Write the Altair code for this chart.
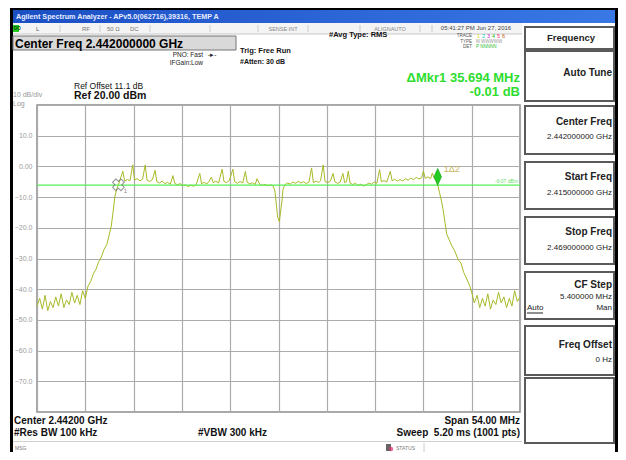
import altair as alt
import pandas as pd

# ---------------- data ----------------
freq_mhz = [
    2415.0, 2415.3, 2415.6, 2415.9, 2416.2, 2416.5, 2416.8, 2417.1, 2417.4, 2417.7,
    2418.0, 2418.3, 2418.6, 2418.9, 2419.2, 2419.5, 2419.8, 2420.1, 2420.4, 2420.7,
    2421.0, 2421.3, 2421.6, 2421.9, 2422.2, 2422.5, 2422.8, 2423.1, 2423.3, 2423.5,
    2423.7, 2423.9, 2424.1, 2424.3, 2424.6, 2424.8, 2425.1, 2425.4, 2425.7, 2425.9,
    2426.2, 2426.5, 2426.8, 2427.1, 2427.3, 2427.6, 2427.9, 2428.2, 2428.4, 2428.7,
    2429.0, 2429.3, 2429.6, 2429.9, 2430.2, 2430.4, 2430.7, 2431.0, 2431.3, 2431.6,
    2431.9, 2432.2, 2432.5, 2432.8, 2433.2, 2433.4, 2433.7, 2434.0, 2434.2, 2434.5,
    2434.7, 2435.0, 2435.3, 2435.7, 2435.9, 2436.2, 2436.5, 2436.9, 2437.1, 2437.4,
    2437.7, 2438.0, 2438.3, 2438.5, 2438.8, 2439.1, 2439.4, 2439.6, 2439.9, 2440.2,
    2440.5, 2440.8, 2441.1, 2441.4, 2441.6, 2441.8, 2441.9, 2442.1, 2442.2, 2442.4,
    2442.5, 2442.7, 2443.0, 2443.3, 2443.6, 2443.9, 2444.2, 2444.5, 2444.8, 2445.1,
    2445.4, 2445.7, 2445.9, 2446.2, 2446.5, 2446.7, 2447.0, 2447.2, 2447.5, 2447.8,
    2448.1, 2448.3, 2448.6, 2448.9, 2449.2, 2449.4, 2449.6, 2449.8, 2450.0, 2450.3,
    2450.6, 2450.9, 2451.2, 2451.5, 2451.8, 2452.1, 2452.4, 2452.7, 2453.0, 2453.3,
    2453.5, 2453.8, 2454.1, 2454.5, 2454.7, 2455.0, 2455.3, 2455.6, 2455.9, 2456.2,
    2456.5, 2456.8, 2457.1, 2457.4, 2457.7, 2458.0, 2458.2, 2458.4, 2458.7, 2459.0,
    2459.2, 2459.4, 2459.6, 2459.8, 2460.0, 2460.2, 2460.4, 2460.6, 2460.8, 2461.1,
    2461.4, 2461.7, 2462.1, 2462.4, 2462.7, 2463.1, 2463.4, 2463.6, 2463.9, 2464.2,
    2464.5, 2464.8, 2465.1, 2465.4, 2465.7, 2466.0, 2466.3, 2466.6, 2466.9, 2467.2,
    2467.5, 2467.8, 2468.1, 2468.4, 2468.7, 2469.0,
]
level_dbm = [
    -45.5, -43.0, -46.5, -42.0, -47.0, -44.0, -46.0, -42.5, -45.5, -41.5,
    -46.0, -43.5, -45.0, -41.0, -44.5, -42.0, -45.0, -40.5, -43.0, -39.0,
    -37.5, -35.0, -33.5, -31.0, -29.5, -27.0, -25.5, -22.0, -19.5, -15.0,
    -10.0, -7.5, -6.0, -4.2, -1.6, -4.8, -4.3, -4.6, 0.5, -4.4,
    -4.0, -4.7, -4.2, 0.5, -4.5, -4.9, -4.3, -1.3, -5.0, -5.4,
    -4.8, -5.6, -5.2, -5.8, -3.0, -5.5, -6.0, -5.6, -6.3, -6.0,
    -6.6, -6.1, -6.5, -5.9, -2.3, -5.6, -5.2, -5.7, -5.0, -3.5,
    -5.3, -4.8, -5.4, -0.9, -4.9, -5.3, -4.6, -0.9, -5.0, -5.5,
    -4.9, -5.4, -1.6, -5.2, -5.7, -5.3, -5.9, -4.0, -5.8, -6.2,
    -5.8, -6.3, -6.0, -6.4, -8.0, -13.5, -16.5, -18.0, -15.5, -11.0,
    -7.5, -6.0, -5.4, -5.8, -5.1, -5.5, -4.9, -5.4, -5.0, -5.6,
    -5.1, -0.5, -5.3, -4.8, -5.2, -4.7, 0.5, -4.9, -5.3, -4.8,
    -2.3, -5.0, -5.5, -5.1, -2.3, -5.3, -5.0, -1.5, -5.4, -5.9,
    -5.5, -6.2, -5.8, -6.4, -6.0, -5.4, -5.8, -5.1, -5.5, -1.0,
    -5.0, -4.6, -5.1, -1.6, -4.7, -4.2, -4.8, -4.3, -4.7, -4.0,
    -4.5, -3.8, -4.3, -3.6, -4.1, -3.7, -1.5, -3.9, -3.4, -4.0,
    -2.2, -3.8, -4.5, -6.0, -8.5, -11.0, -14.0, -18.0, -22.0, -24.0,
    -26.0, -27.5, -30.5, -31.5, -34.5, -37.0, -39.0, -41.0, -44.5, -42.0,
    -46.0, -43.0, -45.5, -41.5, -46.5, -43.5, -45.0, -41.0, -44.5, -42.5,
    -46.0, -43.0, -45.5, -40.5, -44.0, -42.5,
]
grid_freqs = [2415.0, 2420.4, 2425.8, 2431.2, 2436.6, 2442.0, 2447.4, 2452.8, 2458.2, 2463.6, 2469.0]
grid_levels = [20, 10, 0, -10, -20, -30, -40, -50, -60, -70, -80]
display_line = [-6.07]
marker_freq = [2424.1, 2459.8]
marker_level = [-6.0, -6.0]

# ---------------- layout helpers ----------------
OX, OY = 37, 105          # page position of the plot area's top-left corner
W, H = 483, 307
FONT = "Liberation Sans"
NB = "\u00a0"
dummy = pd.DataFrame({"d": [0]})
base = alt.Chart(dummy)


def T(text, px, py, size=8, weight="normal", color="#000000", align="left", font=FONT):
    return base.mark_text(text=text, fontSize=size, fontWeight=weight, color=color,
                          align=align, baseline="middle", font=font).encode(
        x=alt.value(px - OX), y=alt.value(py - OY))


def R(x1, y1, x2, y2, fill, stroke=None, sw=0):
    kw = dict(fill=fill, strokeWidth=sw)
    if stroke:
        kw["stroke"] = stroke
    return base.mark_rect(**kw).encode(
        x=alt.value(x1 - OX), x2=alt.value(x2 - OX),
        y=alt.value(y1 - OY), y2=alt.value(y2 - OY))


def L(x1, y1, x2, y2, color="#aaaaaa", sw=1):
    return base.mark_rule(color=color, strokeWidth=sw).encode(
        x=alt.value(x1 - OX), x2=alt.value(x2 - OX),
        y=alt.value(y1 - OY), y2=alt.value(y2 - OY))


x_enc = alt.X("f:Q", scale=alt.Scale(domain=[2415, 2469], nice=False, zero=False),
              axis=alt.Axis(values=grid_freqs, labels=False, ticks=False, domain=False,
                            title=None, grid=True, gridColor="#ababab", gridWidth=1.2))
y_enc = alt.Y("p:Q", scale=alt.Scale(domain=[-80, 20], nice=False, zero=False),
              axis=alt.Axis(values=grid_levels, ticks=False, domain=False, title=None,
                            grid=True, gridColor="#ababab", gridWidth=1.2,
                            labelExpr="datum.value == 20 || datum.value == -80 ? '' : "
                                      "(datum.value == 0 ? '0.00' : format(datum.value, '.1f'))",
                            labelColor="#9c9c9c", labelFontSize=7, labelFont=FONT,
                            labelPadding=5, labelFlush=False, labelBaseline="middle"))

layers = []

# frame / title bar
blue = alt.Gradient(gradient="linear", x1=0, x2=1, y1=0, y2=0,
                    stops=[alt.GradientStop(color="#1b4fc4", offset=0),
                           alt.GradientStop(color="#3a78e6", offset=1)])
layers += [
    R(10, 8, 618, 10, "#000000"),
    R(10, 8, 13, 460, "#000000"),
    R(615, 8, 618, 460, "#000000"),
    R(13, 10, 615, 23, blue),
    T("Agilent Spectrum Analyzer - APv5.0(062716),39316, TEMP A", 16, 16.5, 7.2, "bold", "#e8eeff"),
    # status row
    R(13, 23, 522, 34, "#f4f4f4"),
    L(13, 34, 522, 34, "#c8c8c8"),
    R(13, 25, 19, 32, "#22cc22"),
    T("DO", 14, 28.5, 4.5, "bold", "#004400"),
    T("L", 36, 28.5, 6, "normal", "#555555"),
    T("RF", 82, 28.5, 6, "normal", "#777777"),
    T("50 Ω", 107, 28.5, 6, "normal", "#777777"),
    T("DC", 130, 28.5, 6, "normal", "#777777"),
    T("SENSE:INT", 283, 28.5, 5.5, "normal", "#888888", "center"),
    T("ALIGNAUTO", 390, 28.5, 5.5, "normal", "#888888", "center"),
    T("05:41:27 PM Jun 27, 2016", 476, 28, 6, "normal", "#444444", "center"),
    L(60, 25, 60, 32, "#cccccc"), L(100, 25, 100, 32, "#cccccc"),
    L(150, 25, 150, 32, "#cccccc"), L(210, 25, 210, 32, "#cccccc"),
    L(258, 25, 258, 32, "#cccccc"), L(308, 25, 308, 32, "#cccccc"),
    L(360, 25, 360, 32, "#cccccc"), L(420, 25, 420, 32, "#cccccc"),
    L(432, 25, 432, 32, "#cccccc"),
    # center freq banner
    R(13, 36, 236, 50, "#d9d9d9", "#777777", 1),
    T("Center Freq 2.442000000 GHz", 15, 43.5, 12, "bold", "#000000"),
    T("PNO: Fast", 203, 55, 6.5, "normal", "#222222", "right"),
    T("-▸-", 208, 55, 6.5, "normal", "#222222"),
    T("IFGain:Low", 203, 63, 6.5, "normal", "#222222", "right"),
    T("Trig: Free Run", 240, 50.5, 7.5, "bold", "#111111"),
    T("#Atten: 30 dB", 240, 62, 7, "bold", "#111111"),
    T("#Avg Type: RMS", 329, 35, 7.5, "bold", "#111111"),
    T("TRACE", 472, 36, 4.5, "normal", "#555555", "right"),
    T("1", 477, 36, 5.5, "normal", "#d8d800"), T("2", 482, 36, 5.5, "normal", "#00c8c8"),
    T("3", 487, 36, 5.5, "normal", "#d020d0"), T("4", 492, 36, 5.5, "normal", "#20b020"),
    T("5", 497, 36, 5.5, "normal", "#ff3070"), T("6", 502, 36, 5.5, "normal", "#c06000"),
    T("TYPE", 472, 41.5, 4.5, "normal", "#555555", "right"),
    T("M WWWWW", 476, 41.5, 4.5, "normal", "#9a9a9a"),
    T("DET", 472, 47, 4.5, "normal", "#555555", "right"),
    T("P  NNNNN", 476, 47, 4.5, "normal", "#33bb33"),
    # marker readout
    T("ΔMkr1 35.694 MHz", 520, 78, 13, "bold", "#2edd2e", "right"),
    T("-0.01 dB", 520, 92, 13, "bold", "#2edd2e", "right"),
    # reference info
    T("Ref Offset 11.1 dB", 74, 85.5, 8.5, "normal", "#111111"),
    T("Ref 20.00 dBm", 74, 96, 10.5, "bold", "#111111"),
    T("10 dB/div", 13, 95, 7, "normal", "#9a9a9a"),
    T("Log", 13, 103.5, 7, "normal", "#9a9a9a"),
    # bottom annotations
    T("Center 2.44200 GHz", 14, 420.5, 10, "bold", "#111111"),
    T("#Res BW 100 kHz", 14, 433, 10, "bold", "#111111"),
    T("#VBW 300 kHz", 198, 433, 10, "bold", "#111111"),
    T("Span 54.00 MHz", 520, 420.5, 10, "bold", "#111111", "right"),
    T("Sweep" + NB + NB + "5.20 ms (1001 pts)", 520, 433, 10, "bold", "#111111", "right"),
    L(13, 441.5, 522, 441.5, "#d0d0d0"),
    T("MSG", 15, 447.5, 5, "normal", "#777777"),
    R(386, 444, 391, 451, "#666666"),
    base.mark_circle(color="#e0306a", size=20).encode(x=alt.value(391 - OX), y=alt.value(449 - OY)),
    T("STATUS", 396, 447.5, 5, "normal", "#777777"),
    L(424, 443, 424, 452, "#cccccc"),
]

# soft-key panel
keys = [
    (27, 49), (51, 101), (106, 154), (162, 209), (217, 264), (272, 319), (326, 375), (378, 443),
]
for (y1, y2) in keys:
    layers.append(R(525, y1, 614, y2, "#ffffff", "#5a5a5a", 2))
layers += [
    T("Frequency", 571, 38, 9.5, "bold", "#222222", "center"),
    T("Auto Tune", 612, 73, 10, "bold", "#222222", "right"),
    T("Center Freq", 612, 122, 10, "bold", "#222222", "right"),
    T("2.442000000 GHz", 612, 137, 8, "normal", "#222222", "right"),
    T("Start Freq", 612, 177, 10, "bold", "#222222", "right"),
    T("2.415000000 GHz", 612, 192.5, 8, "normal", "#222222", "right"),
    T("Stop Freq", 612, 232, 10, "bold", "#222222", "right"),
    T("2.469000000 GHz", 612, 248, 8, "normal", "#222222", "right"),
    T("CF Step", 612, 285, 10, "bold", "#222222", "right"),
    T("5.400000 MHz", 612, 296.5, 8, "normal", "#222222", "right"),
    T("Auto", 527, 308, 8, "normal", "#222222"),
    L(527, 313, 543, 313, "#222222", 1),
    T("Man", 612, 308, 8, "normal", "#222222", "right"),
    T("Freq Offset", 612, 345, 10, "bold", "#222222", "right"),
    T("0 Hz", 612, 360, 8, "normal", "#222222", "right"),
]

# ---------------- plot contents ----------------
trace_df = pd.DataFrame({"f": freq_mhz, "p": level_dbm})
dl_df = pd.DataFrame({"p": display_line})
mk_df = pd.DataFrame({"f": marker_freq, "p": marker_level})

trace = alt.Chart(trace_df).mark_line(color="#a9b928", strokeWidth=1).encode(x=x_enc, y=y_enc)
dline = alt.Chart(dl_df).mark_rule(color="#55ee55", strokeWidth=1.2).encode(y=y_enc)
dlabel = alt.Chart(dl_df).mark_text(text="-6.07 dBm", fontSize=5, color="#66dd66",
                                    align="left", baseline="bottom", dy=-1, font=FONT).encode(
    y=y_enc, x=alt.value(495 - OX))
mk1 = alt.Chart(mk_df.iloc[[0]]).mark_point(shape="cross", angle=45, filled=False,
                                             stroke="#6a6a6a", strokeWidth=1, size=140).encode(x=x_enc, y=y_enc)
mk1t = alt.Chart(mk_df.iloc[[0]]).mark_text(text="1", fontSize=6, color="#888888", dx=7, dy=6,
                                             font=FONT).encode(x=x_enc, y=y_enc)
mk2 = alt.Chart(mk_df.iloc[[1]]).mark_point(shape="M0,-1L0.45,0L0,1L-0.45,0Z", filled=True,
                                             fill="#22cc22", stroke="#119911", strokeWidth=0.5,
                                             opacity=1, size=289, yOffset=-8).encode(x=x_enc, y=y_enc)
mk2t = alt.Chart(mk_df.iloc[[1]]).mark_text(text="1Δ2", fontSize=9, color="#c4b45a", align="left",
                                             dx=6, dy=-16, font=FONT).encode(x=x_enc, y=y_enc)

chart = alt.layer(trace, dline, dlabel, mk1, mk1t, mk2, mk2t, *layers).properties(
    width=W, height=H, autosize="none",
    padding={"left": OX - 8, "top": OY - 8, "right": 618 - (OX + W), "bottom": 452 - (OY + H)},
    background="#ffffff",
).configure_view(stroke="#8a8a8a", strokeWidth=1.5)

chart.save("out.html", embed_options={"renderer": "svg", "actions": False})
